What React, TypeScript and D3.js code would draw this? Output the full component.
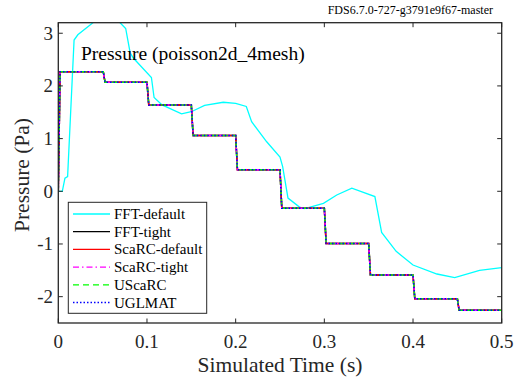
import { useEffect, useRef } from "react";
import * as d3 from "d3";

// FFT-default (t in s, pressure in Pa)
const fftDefT = [0, 0.0045, 0.0075, 0.0105, 0.0178, 0.022, 0.039, 0.05, 0.06, 0.0697, 0.076, 0.081, 0.0846, 0.105, 0.108, 0.117, 0.139, 0.15, 0.165, 0.186, 0.2, 0.212, 0.218, 0.235, 0.25, 0.253, 0.259, 0.272, 0.278, 0.299, 0.314, 0.331, 0.357, 0.3646, 0.381, 0.4, 0.427, 0.447, 0.475, 0.5];
const fftDefP = [0, 0, 0.25, 0.28, 2.87, 2.97, 3.2, 3.3, 3.3, 3.2, 3.09, 2.63, 2.53, 2.16, 1.78, 1.64, 1.47, 1.51, 1.63, 1.69, 1.67, 1.61, 1.32, 0.94, 0.65, 0.47, -0.13, -0.3, -0.33, -0.23, -0.07, 0.06, -0.1, -0.78, -1.14, -1.4, -1.57, -1.64, -1.5, -1.45];

// the other five solvers give the same staircase
const stepT = [0, 0.002, 0.0507, 0.0527, 0.1, 0.102, 0.15, 0.152, 0.2, 0.202, 0.25, 0.252, 0.3, 0.302, 0.35, 0.352, 0.4, 0.402, 0.45, 0.452, 0.5];
const stepP = [0, 2.27, 2.27, 2.07, 2.07, 1.64, 1.64, 1.06, 1.06, 0.41, 0.41, -0.32, -0.32, -0.99, -0.99, -1.59, -1.59, -2.04, -2.04, -2.26, -2.26];

const seriesNames = ["FFT-default", "FFT-tight", "ScaRC-default", "ScaRC-tight", "UScaRC", "UGLMAT"];
const seriesColors = ["#00FFFF", "#000000", "#FF0000", "#FF00FF", "#00FF00", "#0000FF"];
const seriesDash = ["", "", "", "6,3,1.5,3", "6,4", "1.5,2"];

const xTicks = [0, 0.1, 0.2, 0.3, 0.4, 0.5];
const yTicks = [-2, -1, 0, 1, 2, 3];

const FONT = "'Liberation Serif', 'Times New Roman', serif";
const AX = "#262626";

export default function App() {
  const ref = useRef<SVGSVGElement>(null);

  useEffect(() => {
    if (!ref.current) return;
    document.body.style.margin = "0";
    const W = 514, H = 381;
    const L = 58.3, R = 501.7, T = 22.7, B = 323;

    const svg = d3.select(ref.current).attr("width", W).attr("height", H);
    svg.selectAll("*").remove();
    svg.append("rect").attr("width", W).attr("height", H).attr("fill", "#fff");

    const x = d3.scaleLinear().domain([0, 0.5]).range([L, R]);
    const y = d3.scaleLinear().domain([-2.5, 3.2]).range([B, T]);

    svg.append("clipPath").attr("id", "plot-clip")
      .append("rect").attr("x", L).attr("y", T).attr("width", R - L).attr("height", B - T);

    const line = d3.line<[number, number]>().x(d => x(d[0])).y(d => y(d[1]));
    const lines = svg.append("g").attr("clip-path", "url(#plot-clip)").attr("fill", "none");

    const seriesData: [number, number][][] = seriesNames.map((_, i) =>
      i === 0
        ? fftDefT.map((t, j) => [t, fftDefP[j]] as [number, number])
        : stepT.map((t, j) => [t, stepP[j]] as [number, number])
    );

    seriesData.forEach((pts, i) => {
      lines.append("path")
        .attr("d", line(pts))
        .attr("stroke", seriesColors[i])
        .attr("stroke-width", i === 0 ? 1.3 : 1.5)
        .attr("stroke-dasharray", seriesDash[i] || null);
    });

    // axes box + inward ticks on all four sides
    const ax = svg.append("g").attr("stroke", AX).attr("stroke-width", 1);
    ax.append("rect").attr("x", L).attr("y", T).attr("width", R - L).attr("height", B - T)
      .attr("fill", "none").attr("stroke-width", 1.3);
    xTicks.forEach(t => {
      ax.append("line").attr("x1", x(t)).attr("x2", x(t)).attr("y1", B).attr("y2", B - 4.5);
      ax.append("line").attr("x1", x(t)).attr("x2", x(t)).attr("y1", T).attr("y2", T + 4.5);
    });
    yTicks.forEach(v => {
      ax.append("line").attr("x1", L).attr("x2", L + 4.5).attr("y1", y(v)).attr("y2", y(v));
      ax.append("line").attr("x1", R).attr("x2", R - 4.5).attr("y1", y(v)).attr("y2", y(v));
    });

    const txt = svg.append("g").attr("font-family", FONT).attr("fill", AX);
    xTicks.forEach(t => {
      txt.append("text").attr("x", x(t)).attr("y", 348).attr("text-anchor", "middle")
        .attr("font-size", 19).text(String(t));
    });
    yTicks.forEach(v => {
      txt.append("text").attr("x", 53).attr("y", y(v) + 6.5).attr("text-anchor", "end")
        .attr("font-size", 19).text(String(v));
    });

    txt.append("text").attr("x", (L + R) / 2).attr("y", 372).attr("text-anchor", "middle")
      .attr("font-size", 21.5).text("Simulated Time (s)");
    txt.append("text").attr("transform", `translate(29,175) rotate(-90)`)
      .attr("text-anchor", "middle").attr("font-size", 21.5).text("Pressure (Pa)");

    svg.append("text").attr("x", 81).attr("y", 60).attr("font-family", FONT)
      .attr("font-size", 19.5).attr("fill", "#000").text("Pressure (poisson2d_4mesh)");
    svg.append("text").attr("x", 493).attr("y", 14).attr("text-anchor", "end").attr("font-family", FONT)
      .attr("font-size", 12).attr("fill", "#000").text("FDS6.7.0-727-g3791e9f67-master");

    // legend
    const lg = svg.append("g");
    lg.append("rect").attr("x", 68.3).attr("y", 202.3).attr("width", 138.4).attr("height", 111)
      .attr("fill", "#fff").attr("stroke", AX).attr("stroke-width", 1);
    seriesNames.forEach((name, i) => {
      const cy = 214 + i * 17.7;
      lg.append("line").attr("x1", 73).attr("x2", 110).attr("y1", cy).attr("y2", cy)
        .attr("stroke", seriesColors[i]).attr("stroke-width", 1.3)
        .attr("stroke-dasharray", seriesDash[i] || null);
      lg.append("text").attr("x", 114).attr("y", cy + 5).attr("font-family", FONT)
        .attr("font-size", 15).attr("fill", "#000").text(name);
    });
  }, []);

  return <svg ref={ref} style={{ display: "block" }} />;
}
